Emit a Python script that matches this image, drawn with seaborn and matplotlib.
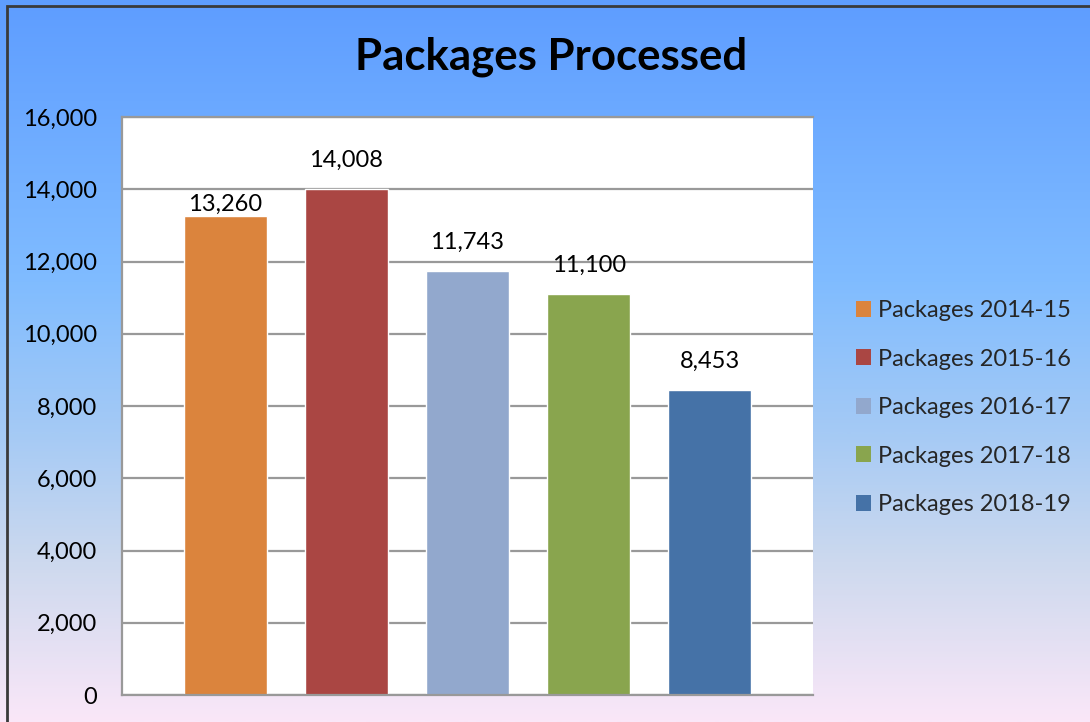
import numpy as np
import pandas as pd
import matplotlib
matplotlib.use("Agg")
import matplotlib.pyplot as plt
from matplotlib.patches import Rectangle
from matplotlib.colors import LinearSegmentedColormap
import seaborn as sns

# ---- data ----
series = ["Packages 2014-15", "Packages 2015-16", "Packages 2016-17",
          "Packages 2017-18", "Packages 2018-19"]
values = [13260, 14008, 11743, 11100, 8453]
title = "Packages Processed"
yticks = [0, 2000, 4000, 6000, 8000, 10000, 12000, 14000, 16000]

# ---- style ----
colors = ["#DB843D", "#AA4643", "#92A8CD", "#89A54E", "#4572A7"]
label_pads = [1, 13, 13, 13, 13]

sns.set_theme(style="white")
plt.rcParams["font.family"] = ["Lato", "DejaVu Sans"]

fig = plt.figure(figsize=(10.9, 7.22), dpi=100)

# gradient background
bg = fig.add_axes([0, 0, 1, 1], zorder=-10)
stops = [(0.0, (94/255, 157/255, 255/255)),
         (0.39, (128/255, 188/255, 255/255)),
         (0.60, (165/255, 202/255, 245/255)),
         (0.78, (205/255, 217/255, 238/255)),
         (1.0, (250/255, 231/255, 248/255))]
cmap = LinearSegmentedColormap.from_list("bg", stops)
grad = np.linspace(0, 1, 512).reshape(-1, 1)
bg.imshow(grad, aspect="auto", cmap=cmap, extent=[0, 1, 0, 1], origin="upper")
bg.set_axis_off()

# border (left and top visible)
fig.patches.append(Rectangle((6.5/1090, -0.1), 1.2, 1.1 - 5.5/722,
                             transform=fig.transFigure, fill=False,
                             edgecolor="#3a3a3a", linewidth=2, zorder=-5))

ax = fig.add_axes([122/1090, 1 - 695/722, (813 - 122)/1090, (695 - 117)/722])
ax.set_facecolor("white")

df = pd.DataFrame({"series": series, "value": values})
sns.barplot(data=df, x="series", y="value", hue="series", palette=colors,
            width=0.686, dodge=False, ax=ax, legend=False, saturation=1)

ax.set_xlim(-0.851, 4.851)
ax.set_ylim(0, 16000)
ax.set_yticks(yticks)
ax.set_yticklabels([f"{v:,}" for v in yticks], fontsize=17, color="black")
ax.set_xticks([])
ax.set_xlabel("")
ax.set_ylabel("")
ax.tick_params(axis="y", length=0, pad=18)
ax.yaxis.grid(True, color="#999999", linewidth=1.6)
ax.set_axisbelow(True)
ax.spines["right"].set_visible(False)
for side in ["left", "bottom", "top"]:
    ax.spines[side].set_color("#999999")
    ax.spines[side].set_linewidth(1.6)

for cont, pad in zip(ax.containers, label_pads):
    ax.bar_label(cont, labels=[f"{v:,.0f}" for v in cont.datavalues],
                 padding=pad, fontsize=17, color="black")

fig.text(551/1090, 1 - 57/722, title, ha="center", va="center",
         fontsize=31.5, fontweight="bold", color="black")

handles = [Rectangle((0, 0), 1, 1, facecolor=c, edgecolor="none") for c in colors]
fig.legend(handles, series, loc="upper left",
           bbox_to_anchor=(856/1090, 1 - 300/722), frameon=False,
           fontsize=17, handlelength=0.65, handleheight=0.65,
           handletextpad=0.3, labelspacing=1.165, borderaxespad=0,
           borderpad=0)

fig.savefig("out.png", dpi=100)
